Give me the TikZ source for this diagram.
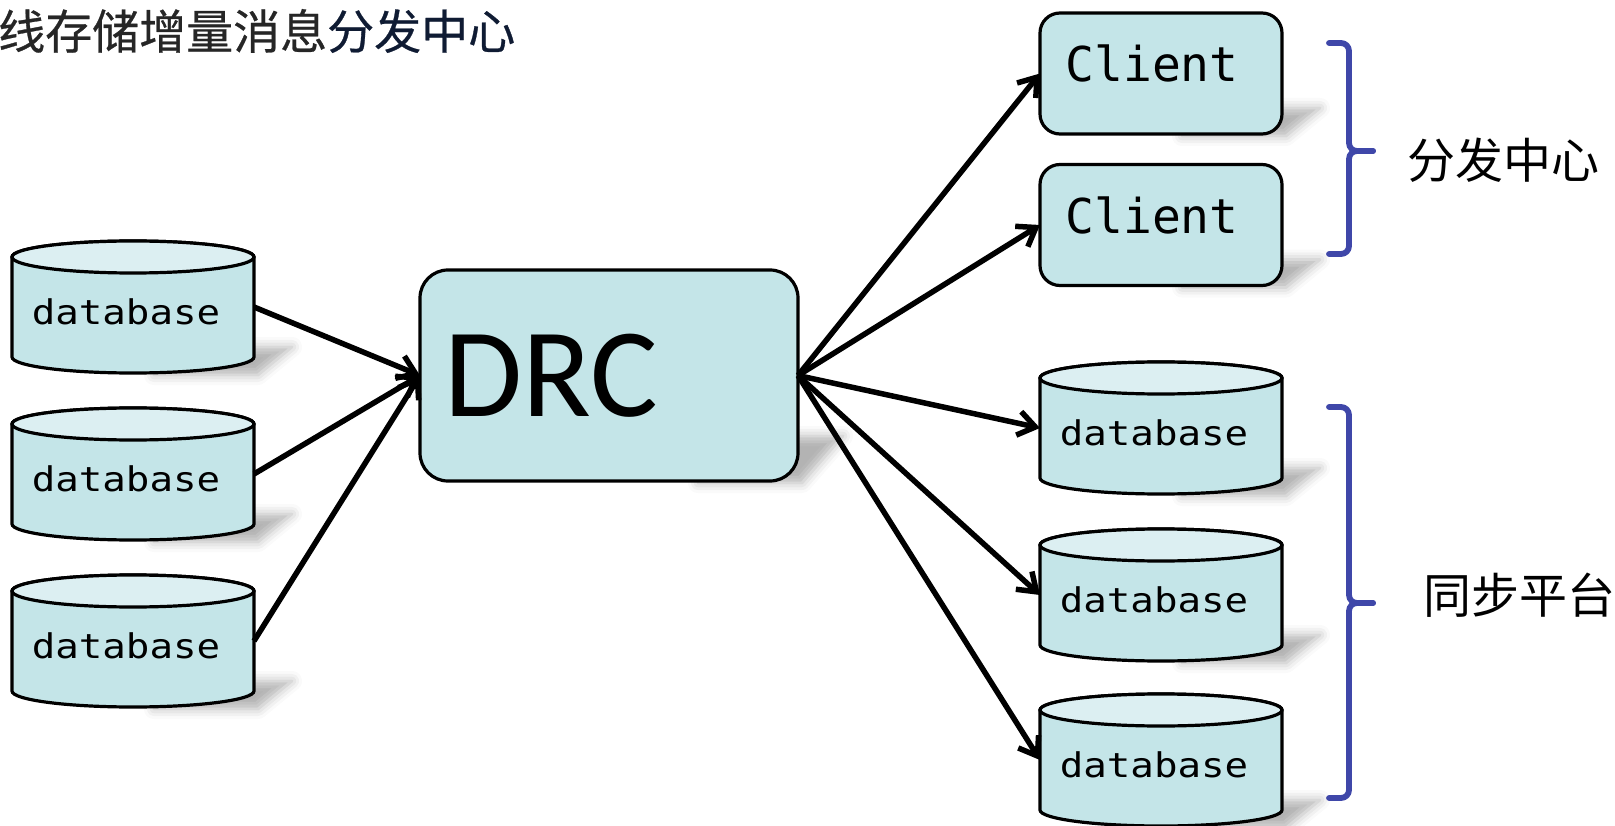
\documentclass[tikz,border=0pt]{standalone}
\usepackage{fontspec}
\usetikzlibrary{arrows.meta,shadows.blur,backgrounds}
\newfontfamily\cjk{Noto Sans CJK SC}
\newfontfamily\cjkheavy[FakeBold=0.6]{Noto Sans CJK SC}
\newfontfamily\monof{DejaVu Sans Mono}
\newfontfamily\calib{Carlito}
\definecolor{bodyfill}{HTML}{C4E5E8}
\definecolor{topfill}{HTML}{DCEFF2}
\definecolor{bracecol}{HTML}{3F47A9}
\definecolor{titlegray}{HTML}{262626}
\definecolor{titlenavy}{HTML}{0F1B33}

\tikzset{
  anchorbox/.style={inner sep=0pt, outer sep=0pt, minimum width=242pt, minimum height=132pt},
  outline/.style={draw=black, line width=3.2pt},
  roundbox/.style={inner sep=0pt, outer sep=0pt, draw=black, line width=3.2pt, fill=bodyfill, rounded corners=20pt},
  dbtext/.style={inner sep=0pt, font=\monof\fontsize{34}{34}\selectfont},
  clienttext/.style={inner sep=0pt, font=\monof\fontsize{48}{48}\selectfont},
  drctext/.style={inner sep=0pt, font=\calib\fontsize{127}{127}\selectfont},
  cjklabel/.style={inner sep=0pt, font=\cjk\fontsize{48}{48}\selectfont},
  titletext/.style={inner sep=0pt, font=\cjkheavy\fontsize{47}{47}\selectfont},
  arr/.style={line width=5.5pt, -{Straight Barb[length=17pt,width=24pt]}},
  bracket/.style={draw=bracecol, line width=5.8pt, line cap=round, line join=round},
  softshade/.style={blur shadow={shadow xshift=0pt, shadow yshift=0pt, shadow opacity=30, shadow blur radius=10pt}},
}

% database cylinder: name, centre x, centre y
\newcommand\dbcyl[3]{%
  \node[anchorbox] (#1) at (#2,#3) {};
  \path[fill=bodyfill, outline]
    ([yshift=-16pt]#1.north west) -- ([yshift=16pt]#1.south west)
    arc[start angle=180, end angle=360, x radius=121pt, y radius=16pt]
    -- ([yshift=-16pt]#1.north east)
    arc[start angle=0, end angle=180, x radius=121pt, y radius=16pt] -- cycle;
  \path[fill=topfill, outline] ([yshift=-16pt]#1.north) ellipse[x radius=121pt, y radius=16pt];
  \node[dbtext] at ([xshift=-7pt,yshift=-4.5pt]#1.center) {\scalebox{1.15}[1]{database}};
}

% client box: name, centre x, centre y
\newcommand\clientbox[3]{%
  \node[roundbox, minimum width=242pt, minimum height=121pt] (#1) at (#2,#3) {};
  \node[clienttext] at ([xshift=-9pt,yshift=10pt]#1.center) {Client};
}

% slanted soft shadow cast to the lower right of a shape: name, reach, rise
\newcommand\castshadow[3]{%
  \path[softshade] ([xshift=-100pt,yshift=-2pt]#1.south east) -- ([xshift=4pt,yshift=-2pt]#1.south east)
    -- ([xshift=#2,yshift=#3]#1.south east) -- ([xshift=-70pt,yshift=#3]#1.south east) -- cycle;
}

\begin{document}
\begin{tikzpicture}[x=1pt,y=1pt]
\useasboundingbox (0,0) rectangle (1615,-826);

% heading
\node[titletext, anchor=west] (title) at (-2,-31)
  {\textcolor{titlegray}{线存储增量消息}\textcolor{titlenavy}{分发中心}};

% sources
\dbcyl{ldb1}{133}{-307}
\dbcyl{ldb2}{133}{-474}
\dbcyl{ldb3}{133}{-641}

% central hub
\node[roundbox, minimum width=378pt, minimum height=211pt, rounded corners=28pt] (drc) at (609,-375.5) {};
\node[drctext, anchor=west] at ([xshift=24pt]drc.west) {DRC};

% consumers
\clientbox{c1}{1161}{-73.5}
\clientbox{c2}{1161}{-225}
\dbcyl{rdb1}{1161}{-428}
\dbcyl{rdb2}{1161}{-595}
\dbcyl{rdb3}{1161}{-760}

% connectors
\draw[arr] (ldb1.east) -- (drc.west);
\draw[arr] (ldb2.east) -- (drc.west);
\draw[arr] (ldb3.east) -- (drc.west);
\draw[arr] (drc.east) -- (c1.west);
\draw[arr] (drc.east) -- (c2.west);
\draw[arr] (drc.east) -- (rdb1.west);
\draw[arr] (drc.east) -- (rdb2.west);
\draw[arr] (drc.east) -- (rdb3.west);

% group braces
\draw[bracket] (1329,-43) -- (1341,-43) to[out=0,in=90] (1349,-51) -- (1349,-143)
  to[out=-90,in=180] (1357,-151) -- (1373,-151);
\draw[bracket] (1373,-151) -- (1357,-151) to[out=180,in=90] (1349,-159) -- (1349,-246)
  to[out=-90,in=0] (1341,-254) -- (1329,-254);
\draw[bracket] (1329,-407) -- (1341,-407) to[out=0,in=90] (1349,-415) -- (1349,-595)
  to[out=-90,in=180] (1357,-603) -- (1373,-603);
\draw[bracket] (1373,-603) -- (1357,-603) to[out=180,in=90] (1349,-611) -- (1349,-790)
  to[out=-90,in=0] (1341,-798) -- (1329,-798);

\node[cjklabel] (fenfa) at (1503,-160) {分发中心};
\node[cjklabel] (tongbu) at (1519,-595) {同步平台};

% soft shadows behind the shapes
\begin{scope}[on background layer]
  \foreach \n in {ldb1,ldb2,ldb3,rdb1,rdb2,rdb3,c1,c2}{
    \castshadow{\n}{38pt}{26pt}
  }
  \castshadow{drc}{45pt}{45pt}
\end{scope}
\end{tikzpicture}
\end{document}
